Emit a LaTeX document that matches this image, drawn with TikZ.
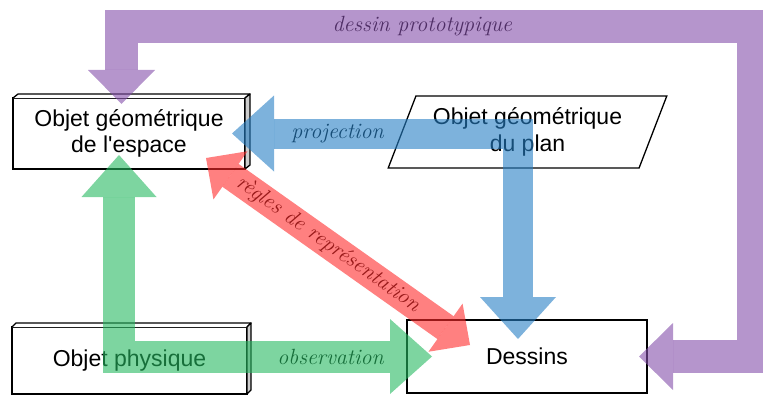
\documentclass[tikz,border=0pt]{standalone}
\usepackage{fontspec}
\newfontfamily\boxfont{Liberation Sans}
\usetikzlibrary{arrows.meta,shapes.geometric}

\definecolor{protoviolet}{RGB}{132,78,170}
\definecolor{projblue}{RGB}{38,127,197}
\definecolor{obsgreen}{RGB}{38,185,97}
\definecolor{regred}{RGB}{255,43,43}
\definecolor{sidegray}{RGB}{205,205,205}

\begin{document}
\begin{tikzpicture}[
    x=1pt, y=-1pt,
    box/.style={draw, line width=1.3pt, inner sep=0pt, outer sep=0pt, align=center,
      font=\boxfont\fontsize{23}{26.5}\selectfont},
    face/.style={draw, line width=1.3pt, fill=#1, line join=round},
    lbl/.style={font=\itshape\fontsize{22}{26}\selectfont, inner sep=0pt},
    flow/.style n args={4}{draw=#1, line width=#2, line join=miter, opacity=.6,
      >={Triangle[length=#3, width=#4, line width=0pt]}, <->},
  ]
  \clip (0,0) rectangle (763,396);

  % boxes
  \node[box, minimum width=232pt, minimum height=71pt] (espace) at (129,133.5)
    {Objet géométrique\\de l'espace};
  \node[box, shape=trapezium, trapezium left angle=64, trapezium right angle=116,
    trapezium stretches=true, minimum width=279pt, minimum height=72pt] (plan) at (527.5,132)
    {Objet géométrique\\du plan};
  \node[box, minimum width=235pt, minimum height=67pt] (physique) at (129.5,360.5)
    {Objet physique};
  \node[box, minimum width=240pt, minimum height=73pt] (dessins) at (527,356.5)
    {Dessins};

  % relief of the two objects
  \foreach \b/\d in {espace/5, physique/4} {
    \draw[face=white] (\b.north west) -- ([shift={(\d,-4)}]\b.north west)
      -- ([shift={(\d,-4)}]\b.north east) -- (\b.north east);
    \draw[face=sidegray] (\b.north east) -- ([shift={(\d,-4)}]\b.north east)
      -- ([shift={(\d,-4)}]\b.south east) -- (\b.south east) -- cycle;
  }

  % ends of the arrows
  \coordinate (vA) at ([shift={(-7.5,6)}]espace.north);
  \coordinate (vD) at ([shift={(-8,0)}]dessins.east);
  \coordinate (bA) at ([shift={(-13,0)}]espace.east);
  \coordinate (bD) at ([shift={(-9,19)}]dessins.north);
  \coordinate (gA) at ([shift={(-10,-14)}]espace.south);
  \coordinate (gD) at ([shift={(25,0)}]dessins.west);
  \coordinate (rA) at ([shift={(-39,-11)}]espace.south east);
  \coordinate (rD) at ([shift={(63,25)}]dessins.north west);

  % labels
  \path (vA |- 0,26.5) -- (753.5,26.5) node[lbl, pos=.476] (lproto) {dessin prototypique};
  \path (bA) -- (bA -| bD) node[lbl, pos=.369] (lproj) {projection};
  \path (gA |- gD) -- (gD) node[lbl, pos=.676] (lobs) {observation};
  \path (rA) -- (rD) node[lbl, sloped, pos=.462] (lregles) {règles de représentation};

  % arrows
  \draw[flow={protoviolet}{33pt}{34pt}{67pt}]
    (vA) -- (vA |- 0,26.5) -- (753.5,26.5) -- (vD -| 753.5,0) -- (vD);
  \draw[flow={projblue}{30pt}{42pt}{76pt}] (bA) -- (bA -| bD) -- (bD);
  \draw[flow={obsgreen}{32pt}{42pt}{75pt}] (gA) -- (gA |- gD) -- (gD);
  \draw[flow={regred}{28pt}{30pt}{59pt}] (rA) -- (rD);
\end{tikzpicture}
\end{document}
